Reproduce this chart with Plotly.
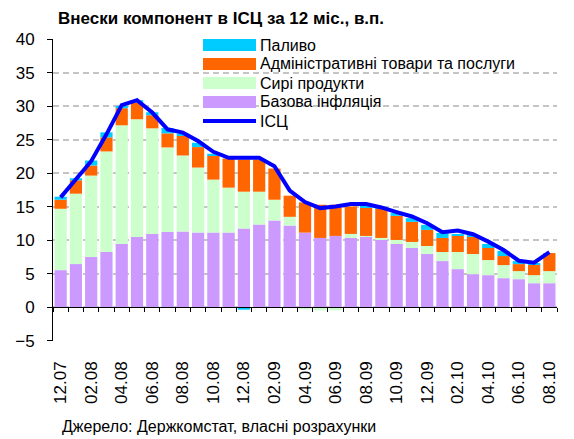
import plotly.graph_objects as go

months = ["12.07", "01.08", "02.08", "03.08", "04.08", "05.08", "06.08", "07.08", "08.08",
          "09.08", "10.08", "11.08", "12.08", "01.09", "02.09", "03.09", "04.09", "05.09",
          "06.09", "07.09", "08.09", "09.09", "10.09", "11.09", "12.09", "01.10", "02.10",
          "03.10", "04.10", "05.10", "06.10", "07.10", "08.10"]
tick_labels = months[::2]

base_infl = [5.55, 6.45, 7.5, 8.25, 9.45, 10.5, 10.95, 11.25, 11.3, 11.15, 11.15, 11.15, 11.75,
             12.35, 12.95, 12.2, 11.15, 10.35, 10.65, 10.35, 10.55, 10.05, 9.45, 8.85, 7.95,
             6.9, 5.7, 4.95, 4.8, 4.35, 4.2, 3.6, 3.6]
raw_food = [9.15, 10.5, 12.15, 15.0, 17.7, 17.55, 15.75, 12.6, 11.35, 9.7, 7.9, 6.7, 5.5,
            4.9, 3.1, 1.3, -0.3, -0.45, -0.45, 0.6, 0.1, 0.3, 0.6, 0.9, 1.2,
            1.35, 2.55, 3.0, 2.25, 1.95, 1.2, 1.2, 1.8]
admin = [1.35, 2.0, 1.5, 2.1, 2.55, 2.5, 1.95, 2.1, 2.9, 3.05, 3.6, 4.35, 4.8,
         4.8, 4.65, 3.15, 4.5, 4.95, 4.65, 4.1, 4.25, 4.4, 3.6, 3.0, 2.4,
         2.1, 2.4, 2.55, 1.8, 1.35, 1.05, 1.65, 2.7]
fuel = [0.45, 0.3, 0.75, 0.75, 0.35, 0.35, 0.45, 0.8, 0.35, 0.65, 0.25, 0.0, -0.35,
        0.0, 0.0, 0.0, 0.0, 0.0, 0.0, 0.0, 0.2, 0.2, 0.4, 0.55, 0.75,
        0.75, 0.15, 0.15, 0.6, 0.75, 0.45, 0.15, 0.0]
cpi = [16.4, 19.15, 21.8, 25.8, 30.15, 30.9, 29.05, 26.55, 26.05, 24.8, 23.2, 22.3, 22.3,
       22.3, 21.05, 17.4, 15.7, 14.8, 15.05, 15.4, 15.4, 14.9, 14.2, 13.55, 12.55,
       11.2, 11.45, 10.9, 9.8, 8.55, 6.95, 6.65, 8.25]

legend_names = ["Паливо", "Адміністративні товари та послуги", "Сирі продукти", "Базова інфляція", "ІСЦ"]
legend_keys = ["fuel", "admin", "raw", "base", "cpi"]
colors = {"fuel": "#00CCFF", "admin": "#FF6600", "raw": "#CCFFCC", "base": "#CC99FF", "cpi": "#0000FF"}

FONT = "Arial, Liberation Sans, sans-serif"
W, H = 574, 439
ML, MR, MT, MB = 53, 17, 39, 98
PW, PH = W - ML - MR, H - MT - MB


def px_x(p):
    return (p - ML) / PW


def px_y(p):
    return (H - MB - p) / PH


fig = go.Figure()
for vals, key, nm in [(base_infl, "base", legend_names[3]), (raw_food, "raw", legend_names[2]),
                      (admin, "admin", legend_names[1]), (fuel, "fuel", legend_names[0])]:
    fig.add_trace(go.Bar(x=months, y=vals, name=nm, marker=dict(color=colors[key], line=dict(width=0)),
                         showlegend=False, hoverinfo="skip"))

fig.add_trace(go.Scatter(x=months, y=cpi, mode="lines", name="ІСЦ", xaxis="x2", showlegend=False,
                         line=dict(color=colors["cpi"], width=4)))

# legend drawn as keys + text
shapes = [dict(type="rect", xref="paper", yref="paper", layer="between",
               x0=px_x(188), x1=px_x(557), y0=px_y(130), y1=px_y(33),
               fillcolor="white", line=dict(width=0))]
annotations = []
for i, (nm, key) in enumerate(zip(legend_names, legend_keys)):
    cy = 45 + 19 * i
    if key == "cpi":
        shapes.append(dict(type="line", xref="paper", yref="paper", layer="above",
                           x0=px_x(203), x1=px_x(256), y0=px_y(cy), y1=px_y(cy),
                           line=dict(color=colors[key], width=4)))
    else:
        shapes.append(dict(type="rect", xref="paper", yref="paper", layer="above",
                           x0=px_x(203), x1=px_x(256), y0=px_y(cy + 6), y1=px_y(cy - 6),
                           fillcolor=colors[key], line=dict(width=0)))
    annotations.append(dict(text=nm, xref="paper", yref="paper", x=px_x(259), xanchor="left",
                            y=px_y(cy), yanchor="middle", showarrow=False, borderpad=0,
                            font=dict(size=16, family=FONT, color="black")))

annotations.append(dict(text="Джерело: Держкомстат, власні розрахунки", xref="paper", yref="paper",
                        x=px_x(60), xanchor="left", y=px_y(426), yanchor="middle",
                        showarrow=False, font=dict(size=16, family=FONT, color="black")))

fig.update_layout(
    width=W, height=H,
    margin=dict(l=ML, r=MR, t=MT, b=MB, autoexpand=False),
    paper_bgcolor="white", plot_bgcolor="white",
    barmode="relative", bargap=0.2,
    showlegend=False, hovermode=False,
    font=dict(family=FONT, size=17, color="black"),
    title=dict(text="<b>Внески компонент в ІСЦ за 12 міс., в.п.</b>",
               x=58 / W, xanchor="left", y=1 - 18 / H, yanchor="middle",
               font=dict(size=17, family=FONT, color="black")),
    xaxis=dict(type="category", categoryorder="array", categoryarray=months,
               range=[-0.5, len(months) - 0.5],
               tickmode="array", tickvals=tick_labels, ticktext=tick_labels,
               tickangle=-90, ticks="", showline=False, showgrid=False, zeroline=False,
               ticklabelstandoff=16, tickfont=dict(size=17)),
    xaxis2=dict(type="category", categoryorder="array", categoryarray=months,
                range=[-0.5, len(months) - 0.5], overlaying="x", anchor="free",
                position=5 / 45, showline=True, linecolor="black", linewidth=1,
                ticks="outside", ticklen=4, tickcolor="black", tickson="boundaries",
                tickmode="linear", dtick=1, showticklabels=False, showgrid=False, zeroline=False),
    yaxis=dict(range=[-5.02, 40.02], tickmode="linear", tick0=-5, dtick=5,
               showline=True, linecolor="black", linewidth=1,
               ticks="outside", ticklen=5, tickcolor="black",
               showgrid=True, gridcolor="#C4C4C4", gridwidth=1.5, griddash="6px,4px",
               zeroline=False, tickfont=dict(size=17), ticklabelstandoff=9),
    shapes=shapes,
    annotations=annotations,
)

fig.write_html("out.html", config={"displayModeBar": False},
               post_script="document.body.style.margin='0px';document.body.style.overflow='hidden';")
